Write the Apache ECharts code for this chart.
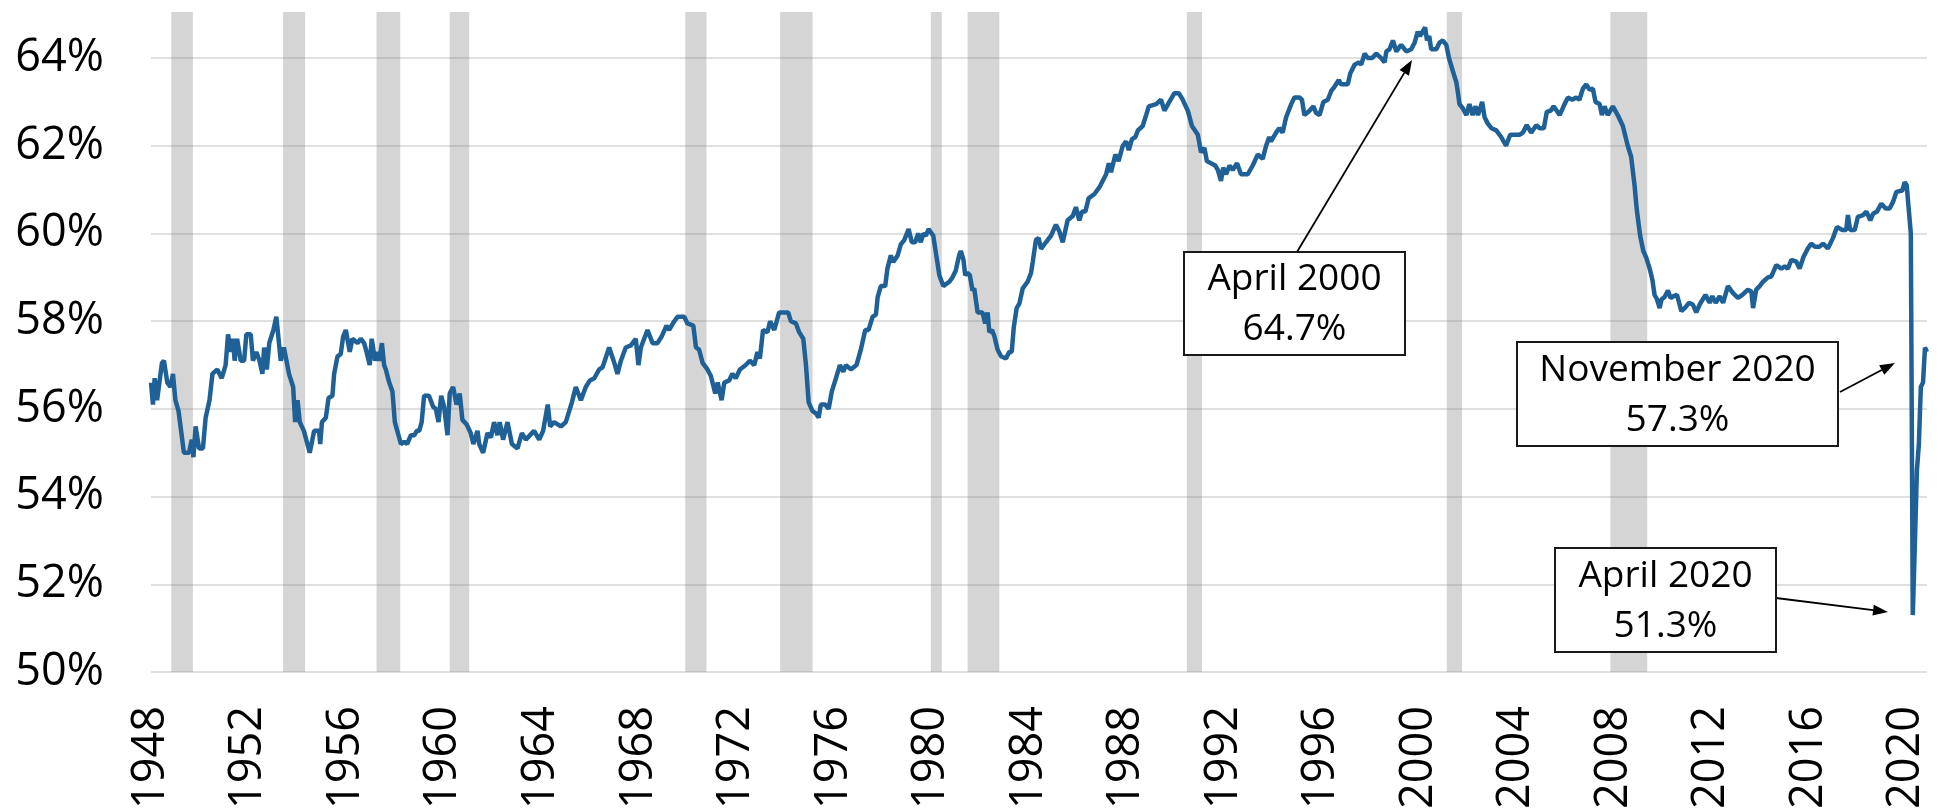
<!DOCTYPE html>
<html>
<head>
<meta charset="utf-8">
<title>Employment-population ratio</title>
<script src="https://cdn.jsdelivr.net/npm/echarts@6/dist/echarts.min.js"></script>
<style>
  html, body { margin: 0; padding: 0; background: #fff; }
  #chart { width: 1940px; height: 812px; }
</style>
</head>
<body>
<div id="chart"></div>
<script>
// employment-population ratio (%): [decimal year, value]
const empRatio = [
  [1948.00,56.6],[1948.08,56.1],[1948.15,56.7],[1948.25,56.2],[1948.45,57.05],[1948.53,57.1],[1948.67,56.6],[1948.80,56.5],[1948.90,56.8],
  [1949.00,56.2],[1949.13,55.95],[1949.35,55.0],[1949.56,55.0],[1949.67,55.3],[1949.74,54.9],[1949.83,55.6],[1949.97,55.1],
  [1950.13,55.1],[1950.24,55.8],[1950.40,56.2],[1950.52,56.8],[1950.72,56.9],[1950.90,56.7],
  [1951.06,57.0],[1951.16,57.7],[1951.26,57.3],[1951.36,57.6],[1951.43,57.1],[1951.53,57.6],[1951.68,57.1],[1951.82,57.1],[1951.91,57.7],
  [1952.09,57.7],[1952.18,57.1],[1952.32,57.3],[1952.45,57.1],[1952.57,56.8],[1952.64,57.4],[1952.75,56.9],[1952.85,57.5],
  [1953.02,57.8],[1953.14,58.1],[1953.32,57.1],[1953.45,57.4],[1953.66,56.8],[1953.83,56.5],[1953.91,55.7],
  [1954.01,56.2],[1954.10,55.7],[1954.27,55.5],[1954.51,55.0],[1954.69,55.5],[1954.89,55.5],[1954.94,55.2],
  [1955.01,55.7],[1955.17,55.8],[1955.28,56.25],[1955.44,56.3],[1955.51,56.8],[1955.65,57.2],[1955.78,57.25],[1955.88,57.65],[1955.99,57.8],
  [1956.15,57.3],[1956.26,57.6],[1956.47,57.5],[1956.60,57.6],[1956.74,57.5],[1956.84,57.3],[1956.97,57.0],
  [1957.05,57.6],[1957.19,57.1],[1957.28,57.3],[1957.36,57.1],[1957.47,57.5],[1957.56,57.0],[1957.63,56.9],[1957.77,56.6],[1957.90,56.4],
  [1958.00,55.7],[1958.10,55.5],[1958.25,55.2],[1958.39,55.25],[1958.50,55.2],[1958.66,55.4],[1958.80,55.4],[1958.90,55.5],
  [1959.00,55.5],[1959.10,55.7],[1959.20,56.3],[1959.40,56.3],[1959.57,56.05],[1959.68,56.0],[1959.79,55.7],[1959.90,56.3],
  [1960.02,56.05],[1960.16,55.4],[1960.25,56.35],[1960.39,56.5],[1960.53,56.1],[1960.66,56.35],[1960.77,55.75],[1960.94,55.65],
  [1961.11,55.45],[1961.22,55.2],[1961.39,55.5],[1961.46,55.2],[1961.62,55.0],[1961.80,55.45],[1961.94,55.35],
  [1962.07,55.7],[1962.21,55.4],[1962.30,55.7],[1962.44,55.3],[1962.62,55.7],[1962.80,55.2],
  [1963.03,55.1],[1963.21,55.45],[1963.37,55.3],[1963.71,55.5],[1963.92,55.3],
  [1964.08,55.5],[1964.27,56.1],[1964.37,55.6],[1964.53,55.7],[1964.81,55.6],
  [1965.01,55.7],[1965.26,56.15],[1965.42,56.5],[1965.63,56.2],[1965.83,56.5],
  [1966.00,56.65],[1966.18,56.7],[1966.38,56.9],[1966.52,56.95],[1966.79,57.4],
  [1967.00,57.05],[1967.13,56.8],[1967.27,57.1],[1967.47,57.4],[1967.68,57.45],[1967.88,57.6],[1967.99,57.0],
  [1968.09,57.4],[1968.36,57.8],[1968.57,57.5],[1968.77,57.5],[1968.94,57.65],
  [1969.14,57.9],[1969.25,57.8],[1969.46,58.0],[1969.59,58.1],[1969.87,58.1],
  [1970.00,57.95],[1970.24,57.9],[1970.35,57.4],[1970.48,57.35],[1970.62,57.05],[1970.82,56.9],[1970.96,56.75],
  [1971.14,56.35],[1971.24,56.6],[1971.40,56.2],[1971.51,56.6],[1971.71,56.65],[1971.84,56.8],[1971.98,56.7],
  [1972.15,56.9],[1972.39,57.0],[1972.56,57.1],[1972.74,57.0],[1972.87,57.3],[1972.97,57.15],
  [1973.10,57.8],[1973.28,57.75],[1973.39,58.0],[1973.56,57.8],[1973.76,58.2],
  [1974.13,58.2],[1974.24,58.0],[1974.45,57.95],[1974.58,57.75],[1974.75,57.6],[1974.86,57.0],[1974.97,56.15],
  [1975.13,55.95],[1975.27,55.9],[1975.38,55.8],[1975.47,56.1],[1975.65,56.1],[1975.79,56.0],[1975.92,56.4],
  [1976.09,56.7],[1976.25,57.0],[1976.39,56.85],[1976.50,57.0],[1976.70,56.9],[1976.93,57.0],
  [1977.11,57.35],[1977.29,57.8],[1977.43,57.8],[1977.59,58.1],[1977.73,58.15],[1977.80,58.55],[1977.93,58.8],
  [1978.11,58.8],[1978.20,59.2],[1978.34,59.5],[1978.44,59.35],[1978.62,59.5],[1978.75,59.75],[1978.89,59.85],
  [1979.07,60.1],[1979.20,59.8],[1979.34,59.8],[1979.46,60.0],[1979.57,59.8],[1979.67,60.0],[1979.78,59.95],[1979.89,60.1],
  [1980.08,59.95],[1980.19,59.55],[1980.33,59.05],[1980.49,58.8],[1980.74,58.9],[1980.87,59.0],
  [1981.00,59.15],[1981.14,59.5],[1981.21,59.6],[1981.32,59.4],[1981.39,59.05],[1981.48,59.1],[1981.58,59.05],[1981.69,58.7],[1981.76,58.75],[1981.90,58.2],
  [1982.10,58.2],[1982.21,57.95],[1982.31,58.2],[1982.38,57.75],[1982.49,57.8],[1982.59,57.65],[1982.72,57.35],[1982.86,57.2],
  [1983.06,57.15],[1983.20,57.3],[1983.30,57.3],[1983.38,57.85],[1983.50,58.3],[1983.61,58.4],[1983.75,58.75],[1983.95,58.9],
  [1984.09,59.1],[1984.16,59.35],[1984.29,59.85],[1984.40,59.9],[1984.50,59.65],[1984.70,59.8],[1984.91,59.95],
  [1985.11,60.2],[1985.25,60.05],[1985.39,59.8],[1985.59,60.3],[1985.80,60.4],[1985.93,60.6],
  [1986.07,60.3],[1986.18,60.5],[1986.32,60.5],[1986.45,60.8],[1986.69,60.9],[1986.89,61.05],
  [1987.17,61.35],[1987.28,61.6],[1987.37,61.4],[1987.55,61.8],[1987.68,61.65],[1987.85,62.0],[1987.99,62.1],
  [1988.10,61.9],[1988.23,62.15],[1988.37,62.2],[1988.47,62.35],[1988.67,62.45],[1988.81,62.7],[1988.92,62.9],
  [1989.22,62.95],[1989.42,63.05],[1989.56,62.8],[1989.76,63.0],[1989.97,63.2],
  [1990.15,63.2],[1990.31,63.05],[1990.52,62.8],[1990.69,62.45],[1990.93,62.25],
  [1991.06,61.85],[1991.20,61.95],[1991.30,61.65],[1991.47,61.6],[1991.64,61.55],[1991.75,61.45],[1991.88,61.2],[1991.97,61.5],
  [1992.09,61.35],[1992.23,61.55],[1992.36,61.45],[1992.54,61.6],[1992.70,61.35],[1992.98,61.35],
  [1993.18,61.55],[1993.39,61.8],[1993.59,61.7],[1993.73,62.0],[1993.86,62.2],[1993.93,62.1],
  [1994.14,62.3],[1994.27,62.4],[1994.41,62.3],[1994.55,62.65],[1994.76,62.95],[1994.89,63.1],
  [1995.10,63.1],[1995.20,63.05],[1995.30,62.7],[1995.51,62.8],[1995.67,62.9],[1995.78,62.75],[1995.92,62.7],
  [1996.08,63.0],[1996.26,63.05],[1996.40,63.25],[1996.54,63.35],[1996.71,63.5],[1996.80,63.4],
  [1997.08,63.4],[1997.18,63.65],[1997.36,63.85],[1997.53,63.9],[1997.63,63.85],[1997.77,64.1],[1997.90,64.0],
  [1998.08,64.0],[1998.25,64.1],[1998.45,64.0],[1998.59,63.9],[1998.66,64.15],[1998.79,64.2],[1998.93,64.4],
  [1999.07,64.15],[1999.27,64.3],[1999.48,64.15],[1999.68,64.2],[1999.82,64.35],[1999.95,64.6],
  [2000.04,64.5],[2000.25,64.7],[2000.33,64.4],[2000.42,64.5],[2000.50,64.2],[2000.71,64.2],[2000.84,64.35],[2000.98,64.4],
  [2001.12,64.3],[2001.23,64.0],[2001.39,63.7],[2001.53,63.45],[2001.60,63.2],[2001.66,62.95],[2001.80,62.85],[2001.94,62.7],
  [2002.07,62.95],[2002.20,62.7],[2002.32,62.9],[2002.42,62.7],[2002.59,63.0],[2002.69,62.65],[2002.83,62.5],[2002.97,62.4],
  [2003.17,62.35],[2003.37,62.2],[2003.57,62.0],[2003.74,62.25],[2003.92,62.25],
  [2004.12,62.25],[2004.26,62.3],[2004.42,62.47],[2004.60,62.3],[2004.81,62.47],[2004.95,62.4],
  [2005.12,62.4],[2005.24,62.77],[2005.40,62.8],[2005.52,62.9],[2005.77,62.7],[2005.97,62.95],
  [2006.11,63.1],[2006.28,63.05],[2006.45,63.1],[2006.58,63.05],[2006.72,63.3],[2006.86,63.4],[2006.99,63.28],
  [2007.13,63.3],[2007.24,63.0],[2007.41,62.95],[2007.50,62.7],[2007.61,62.9],[2007.74,62.7],[2007.95,62.9],
  [2008.15,62.7],[2008.36,62.45],[2008.56,62.0],[2008.70,61.75],[2008.84,61.1],[2008.93,60.55],
  [2009.07,59.95],[2009.20,59.6],[2009.32,59.45],[2009.46,59.2],[2009.57,58.95],[2009.66,58.6],[2009.76,58.5],[2009.87,58.3],[2009.95,58.5],
  [2010.07,58.55],[2010.21,58.7],[2010.32,58.53],[2010.44,58.57],[2010.58,58.6],[2010.76,58.23],[2010.90,58.3],
  [2011.07,58.42],[2011.23,58.38],[2011.37,58.2],[2011.51,58.38],[2011.75,58.6],[2011.92,58.42],
  [2012.03,58.57],[2012.17,58.42],[2012.33,58.57],[2012.47,58.42],[2012.67,58.8],[2012.88,58.64],
  [2013.08,58.53],[2013.26,58.6],[2013.49,58.72],[2013.63,58.68],[2013.70,58.3],[2013.83,58.72],[2013.97,58.8],
  [2014.11,58.9],[2014.31,59.0],[2014.45,59.02],[2014.65,59.28],[2014.86,59.2],
  [2015.00,59.25],[2015.13,59.2],[2015.27,59.4],[2015.47,59.36],[2015.61,59.2],[2015.77,59.47],[2015.95,59.66],
  [2016.09,59.77],[2016.23,59.7],[2016.43,59.7],[2016.57,59.77],[2016.77,59.66],[2016.98,59.9],
  [2017.14,60.15],[2017.36,60.08],[2017.52,60.08],[2017.59,60.42],[2017.68,60.08],[2017.87,60.08],
  [2018.00,60.38],[2018.21,60.42],[2018.35,60.5],[2018.51,60.3],[2018.62,60.45],[2018.78,60.5],[2018.96,60.68],
  [2019.14,60.57],[2019.30,60.57],[2019.44,60.72],[2019.58,60.95],[2019.82,60.98],[2019.92,61.17],
  [2020.00,61.1],[2020.08,61.1],[2020.17,60.0],[2020.25,51.3],[2020.33,52.8],[2020.42,54.6],[2020.50,55.2],
  [2020.58,56.5],[2020.67,56.6],[2020.75,57.4],[2020.83,57.3]
];

// shaded recession periods, decimal years
const recStart = [1948.83, 1953.42, 1957.25, 1960.25, 1969.91, 1973.80, 1979.98, 1981.49, 1990.48, 2001.14, 2007.85];
const recEnd   = [1949.72, 1954.32, 1958.22, 1961.05, 1970.78, 1975.13, 1980.43, 1982.79, 1991.10, 2001.77, 2009.36];

const noteText = ['April 2000\n64.7%', 'November 2020\n57.3%', 'April 2020\n51.3%'];

const FONT = '"Open Sans", "Noto Sans", sans-serif';

const chart = echarts.init(document.getElementById('chart'));

function arrow(x1, y1, x2, y2) {
  const a = Math.atan2(y2 - y1, x2 - x1);
  const L = 15, W = 5.5;
  const bx = x2 - L * Math.cos(a), by = y2 - L * Math.sin(a);
  return [
    { type: 'line', z: 100, shape: { x1: x1, y1: y1, x2: bx, y2: by }, style: { stroke: '#000', lineWidth: 1.8 } },
    { type: 'polygon', z: 100, shape: { points: [[x2, y2], [bx - W * Math.sin(a), by + W * Math.cos(a)], [bx + W * Math.sin(a), by - W * Math.cos(a)]] }, style: { fill: '#000' } }
  ];
}

function box(x, y, w, h, text) {
  return [
    { type: 'rect', z: 100, shape: { x: x, y: y, width: w, height: h }, style: { fill: '#fff', stroke: '#1a1a1a', lineWidth: 2 } },
    { type: 'text', z: 101, x: x + w / 2, y: y + h / 2 + 1,
      style: { text: text, fill: '#000', font: '37px ' + FONT, align: 'center', verticalAlign: 'middle', lineHeight: 50 } }
  ];
}

chart.setOption({
  animation: false,
  grid: { left: 151, right: 13, top: 12, bottom: 138 },
  xAxis: {
    type: 'value',
    min: 1948,
    max: 2020 + 10 / 12,
    interval: 4,
    axisLine: { show: false },
    axisTick: { show: false },
    splitLine: { show: false },
    axisLabel: {
      rotate: 90,
      margin: 34,
      showMaxLabel: false,
      color: '#000',
      fontSize: 45,
      fontFamily: FONT,
      formatter: v => String(v)
    }
  },
  yAxis: {
    type: 'value',
    min: 50,
    max: 65.05,
    interval: 2,
    axisLine: { show: false },
    axisTick: { show: false },
    splitLine: { show: true, showMaxLine: false, lineStyle: { color: '#d6d6d6', width: 1.5 } },
    axisLabel: {
      margin: 47,
      showMaxLabel: false,
      color: '#000',
      fontSize: 45,
      fontFamily: FONT,
      formatter: v => v + '%'
    }
  },
  series: [
    {
      type: 'line',
      data: empRatio,
      showSymbol: false,
      symbol: 'none',
      lineStyle: { color: '#1f6196', width: 4.5 },
      markArea: {
        silent: true,
        itemStyle: { color: 'rgba(128,128,128,0.33)' },
        data: recStart.map((s, i) => [{ xAxis: s }, { xAxis: recEnd[i] }])
      },
      z: 3
    }
  ],
  graphic: [].concat(
    arrow(1297, 252, 1412, 60),
    box(1184, 252, 221, 103, noteText[0]),
    arrow(1840, 392, 1895, 363),
    box(1517, 342, 321, 104, noteText[1]),
    arrow(1776, 598, 1888, 612),
    box(1555, 548, 221, 104, noteText[2])
  )
});
</script>
</body>
</html>
